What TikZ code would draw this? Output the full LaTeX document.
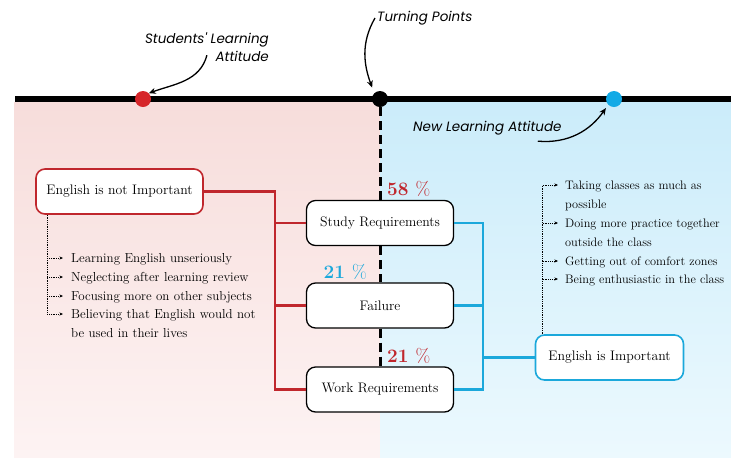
\documentclass[tikz,border=0pt]{standalone}
\usepackage{fontspec}
\newfontfamily\notefont{Poppins}
\usetikzlibrary{arrows.meta}
\definecolor{oldred}{RGB}{192,39,45}
\definecolor{dotred}{RGB}{214,38,42}
\definecolor{newblue}{RGB}{27,168,219}
\definecolor{dotblue}{RGB}{18,170,230}
\definecolor{pinktop}{RGB}{247,221,219}
\definecolor{pinkbot}{RGB}{253,243,243}
\definecolor{bluetop}{RGB}{203,236,250}
\definecolor{bluebot}{RGB}{236,249,254}

\begin{document}
\begin{tikzpicture}[
    x=1pt, y=-1pt,
    dot/.style={circle, minimum size=16pt, inner sep=0pt},
    reqbox/.style={draw=black, line width=1.3pt, rounded corners=9pt, fill=white,
                   minimum width=147pt, minimum height=45pt,
                   font=\fontsize{13.8}{15}\selectfont},
    sidebox/.style={reqbox, line width=1.6pt},
    link/.style={line width=2.8pt},
    pct/.style={font=\fontsize{19}{20}\selectfont\bfseries, inner sep=1pt},
    note/.style={font=\notefont\itshape\fontsize{13.5}{18}\selectfont, inner sep=0pt},
    callout/.style={line width=1.3pt, -{Stealth[length=7pt,width=6pt]}},
    item/.style={anchor=base west, text width=200pt, align=left, inner sep=0pt,
                 font=\fontsize{13}{19}\selectfont},
    spine/.style={densely dotted, line width=0.8pt},
    bullet/.style={spine, -{Stealth[length=3.5pt,width=3pt]}}
  ]
  \useasboundingbox (0,0) rectangle (731,459);

  % shaded halves
  \fill[top color=pinktop, bottom color=pinkbot] (14,102) rectangle (380,457);
  \fill[top color=bluetop, bottom color=bluebot] (380,102) rectangle (731,457);

  % timeline
  \coordinate (tl-a) at (15,99);
  \coordinate (tl-b) at (731,99);
  \draw[line width=6pt] (tl-a) -- (tl-b);
  \node[dot, fill=dotred] (old) at (143,99) {};
  \node[dot, fill=black] (turn) at (380,99) {};
  \node[dot, fill=dotblue] (new) at (614,99) {};

  % labels on the timeline
  \node[note, align=right, anchor=north east] (sla) at (269,33) {Students' Learning\\Attitude};
  \node[note, anchor=west] (tp) at (377,18) {Turning Points};
  \node[note, anchor=west] (nla) at (413,128) {New Learning Attitude};
  \draw[callout] ([yshift=7pt]sla.south) to[out=-105, in=20] (old.north east);
  \draw[callout, shorten >=6pt] ([xshift=-2pt]tp.west) to[out=-120, in=110] (turn.north west);
  \draw[callout, shorten >=4pt] ([xshift=-24pt,yshift=-6pt]nla.south east) to[out=-5, in=-125] (new.south west);

  % boxes
  \node[reqbox] (study) at (380,223) {Study Requirements};
  \node[reqbox] (fail) at (380,305.5) {Failure};
  \node[reqbox] (work) at (380,389.5) {Work Requirements};
  \node[sidebox, draw=oldred, minimum width=167pt] (notimp) at (119.5,191.5) {English is not Important};
  \node[sidebox, draw=newblue, minimum width=148pt] (imp) at (609.5,357.5) {English is Important};

  % dashed turning line
  \draw[line width=3pt, dash pattern=on 9pt off 5pt] (turn.south) -- (study.north);
  \draw[line width=3pt, dash pattern=on 9pt off 5pt] (study.south) -- (fail.north);
  \draw[line width=3pt, dash pattern=on 9pt off 5pt] (fail.south) -- (work.north);

  % percentages
  \node[pct, text=oldred, anchor=south west] (p58) at ([xshift=6pt,yshift=2pt]study.north) {58 {\mdseries\%}};
  \node[pct, text=newblue, anchor=south east] (p21a) at ([xshift=-12pt,yshift=2pt]fail.north) {21 {\mdseries\%}};
  \node[pct, text=oldred, anchor=south west] (p21b) at ([xshift=6pt,yshift=2pt]work.north) {21 {\mdseries\%}};

  % connectors
  \coordinate (redbus) at (275,0);
  \coordinate (bluebus) at (483,0);
  \draw[link, oldred] (notimp.east) -| (redbus |- work.west) -- (work.west);
  \foreach \b in {study, fail}
    \draw[link, oldred] (redbus |- \b.west) -- (\b.west);
  \draw[link, newblue] (study.east) -| (bluebus |- work.east) -- (work.east);
  \draw[link, newblue] (fail.east) -- (bluebus |- fail.east);
  \draw[link, newblue] (bluebus |- imp.west) -- (imp.west);

  % left list
  \foreach \y/\t [count=\i] in {258/Learning English unseriously,
      277/Neglecting after learning review,
      296/Focusing more on other subjects,
      314/{Believing that English would not\\be used in their lives}} {
    \node[item] (l\i) at (71,\y+4) {\t};
    \coordinate (lb\i) at ([xshift=-8pt,yshift=4pt]l\i.base west);
  }
  \coordinate (lsp) at ([xshift=12pt]notimp.south west);
  \draw[spine] (lsp) -- (lsp |- lb4);
  \foreach \i in {1,...,4}
    \draw[bullet] (lsp |- lb\i) -- (lb\i);

  % right list
  \foreach \y/\t [count=\i] in {185/{Taking classes as much as\\possible},
      223/{Doing more practice together\\outside the class},
      261/Getting out of comfort zones,
      279/Being enthusiastic in the class} {
    \node[item, font=\fontsize{12.3}{19}\selectfont] (r\i) at (565,\y+4) {\t};
    \coordinate (rb\i) at ([xshift=-7pt,yshift=4pt]r\i.base west);
  }
  \coordinate (rsp) at ([xshift=8pt]imp.north west);
  \draw[spine] (rsp) -- (rsp |- rb1);
  \foreach \i in {1,...,4}
    \draw[bullet] (rsp |- rb\i) -- (rb\i);
\end{tikzpicture}
\end{document}
